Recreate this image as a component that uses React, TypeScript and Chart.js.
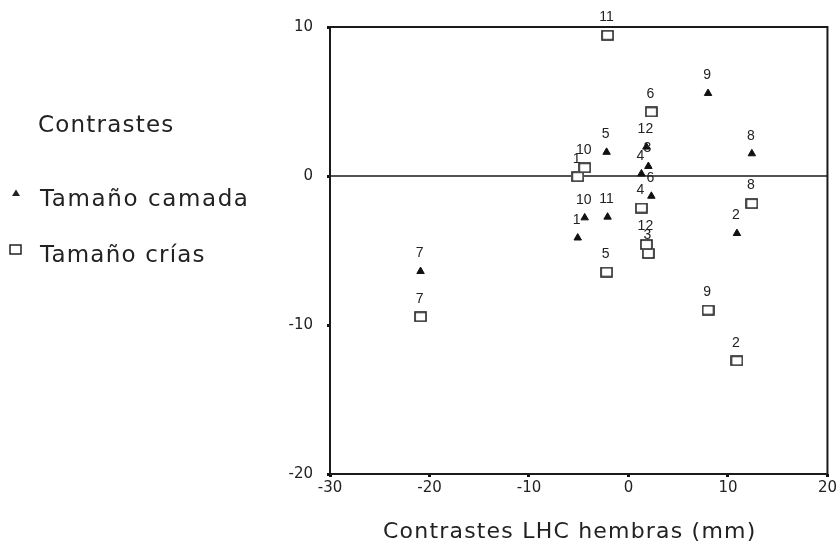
import React, { useEffect, useRef } from "react";
import { Chart, registerables } from "chart.js";

Chart.register(...registerables);

const speciesLabels = ["1", "2", "3", "4", "5", "6", "7", "8", "9", "10", "11", "12"];
const contrastX = [-5.1, 10.9, 2.0, 1.3, -2.2, 2.3, -20.9, 12.4, 8.0, -4.4, -2.1, 1.8];
const camadaY = [-4.15, -3.85, 0.65, 0.15, 1.6, -1.35, -6.4, 1.5, 5.55, -2.8, -2.75, 1.95];
const criasY = [-0.05, -12.4, -5.2, -2.15, -6.45, 4.3, -9.45, -1.85, -9.0, 0.55, 9.45, -4.6];
const xTicks = [-30, -20, -10, 0, 10, 20];
const yTicks = [-20, -10, 0, 10];
const legendTitle = "Contrastes";
const seriesNames = ["Tamaño camada", "Tamaño crías"];
const xTitle = "Contrastes LHC hembras (mm)";

const TEXT = "#222";

function makeSquare(): HTMLCanvasElement {
  const c = document.createElement("canvas");
  c.width = 13;
  c.height = 11;
  const g = c.getContext("2d")!;
  g.fillStyle = "#fff";
  g.fillRect(0, 0, 13, 11);
  g.strokeStyle = "#222";
  g.lineWidth = 1.6;
  g.strokeRect(1, 1, 11, 9);
  return c;
}

const framePlugin = {
  id: "frame",
  beforeDatasetsDraw(chart: any) {
    const { ctx, chartArea } = chart;
    const y0 = chart.scales.y.getPixelForValue(0);
    ctx.save();
    ctx.strokeStyle = "#1a1a1a";
    ctx.lineWidth = 1.6;
    ctx.beginPath();
    ctx.moveTo(chartArea.left, y0);
    ctx.lineTo(chartArea.right, y0);
    ctx.stroke();
    ctx.lineWidth = 2;
    ctx.strokeRect(chartArea.left, chartArea.top, chartArea.right - chartArea.left, chartArea.bottom - chartArea.top);
    ctx.restore();
  },
  afterDraw(chart: any) {
    const { ctx, chartArea } = chart;
    ctx.save();
    ctx.font = "22px 'DejaVu Sans', sans-serif";
    (ctx as any).letterSpacing = "1.2px";
    ctx.fillStyle = TEXT;
    ctx.textAlign = "center";
    ctx.textBaseline = "alphabetic";
    ctx.fillText(xTitle, (chartArea.left + chartArea.right) / 2 - 9, chartArea.bottom + 64);
    ctx.restore();
  },
};

const pointLabelPlugin = {
  id: "pointLabels",
  afterDatasetsDraw(chart: any) {
    const { ctx } = chart;
    ctx.save();
    ctx.font = "14px 'Liberation Sans', Arial, sans-serif";
    ctx.fillStyle = TEXT;
    ctx.textAlign = "center";
    ctx.textBaseline = "middle";
    chart.data.datasets.forEach((ds: any, di: number) => {
      const meta = chart.getDatasetMeta(di);
      meta.data.forEach((pt: any, i: number) => {
        ctx.fillText(ds.pointLabels[i], pt.x - 1, pt.y - 18);
      });
    });
    ctx.restore();
  },
};

export default function App() {
  const ref = useRef<HTMLCanvasElement>(null);

  useEffect(() => {
    if (!ref.current) return;
    const square = makeSquare();
    const chart = new Chart(ref.current, {
      type: "scatter",
      data: {
        datasets: [
          {
            label: seriesNames[0],
            data: contrastX.map((x, i) => ({ x, y: camadaY[i] })),
            pointStyle: "triangle",
            pointRadius: 4.3,
            pointBackgroundColor: "#111",
            pointBorderColor: "#111",
            pointBorderWidth: 1,
            pointLabels: speciesLabels,
          } as any,
          {
            label: seriesNames[1],
            data: contrastX.map((x, i) => ({ x, y: criasY[i] })),
            pointStyle: square,
            pointRadius: 6,
            pointLabels: speciesLabels,
          } as any,
        ],
      },
      options: {
        animation: false,
        responsive: false,
        layout: { padding: { left: 270, top: 27, right: 11, bottom: 0 } },
        plugins: { legend: { display: false }, tooltip: { enabled: false } },
        scales: {
          x: {
            type: "linear",
            min: -30,
            max: 20,
            afterFit: (s: any) => {
              s.height = 71;
            },
            afterBuildTicks: (s: any) => {
              s.ticks = xTicks.map((v) => ({ value: v }));
            },
            grid: { display: true, drawOnChartArea: false, drawTicks: true, tickLength: 3, color: "#111", lineWidth: 3 },
            border: { display: false },
            ticks: { color: TEXT, font: { family: "'DejaVu Sans'", size: 15 }, padding: 2, maxRotation: 0 },
            title: { display: false },
          },
          y: {
            type: "linear",
            min: -20,
            max: 10,
            afterFit: (s: any) => {
              s.width = 60;
            },
            afterBuildTicks: (s: any) => {
              s.ticks = yTicks.map((v) => ({ value: v }));
            },
            grid: { display: true, drawOnChartArea: false, drawTicks: true, tickLength: 3, color: "#111", lineWidth: 3 },
            border: { display: false },
            ticks: { color: TEXT, font: { family: "'DejaVu Sans'", size: 15 }, padding: 14 },
          },
        },
      },
      plugins: [framePlugin, pointLabelPlugin],
    });
    return () => chart.destroy();
  }, []);

  const textStyle: React.CSSProperties = {
    position: "absolute",
    fontFamily: "'DejaVu Sans', sans-serif",
    fontSize: 23,
    letterSpacing: "1.2px",
    color: TEXT,
    whiteSpace: "nowrap",
    lineHeight: "normal",
  };

  return (
    <div style={{ position: "fixed", left: 0, top: 0, width: 839, height: 545, background: "#fff" }}>
      <canvas ref={ref} width={839} height={545} style={{ position: "absolute", left: 0, top: 0 }} />
      <div style={{ ...textStyle, left: 38, top: 111 }}>{legendTitle}</div>
      <svg style={{ position: "absolute", left: 10, top: 188 }} width={12} height={10}>
        <polygon points="6,1.5 10,8 2,8" fill="#222" />
      </svg>
      <div style={{ ...textStyle, left: 40, top: 185, letterSpacing: "1.6px" }}>{seriesNames[0]}</div>
      <svg style={{ position: "absolute", left: 9, top: 244 }} width={13} height={11}>
        <rect x={1} y={1} width={11} height={9} fill="#fff" stroke="#222" strokeWidth={1.5} />
      </svg>
      <div style={{ ...textStyle, left: 40, top: 241 }}>{seriesNames[1]}</div>
    </div>
  );
}
